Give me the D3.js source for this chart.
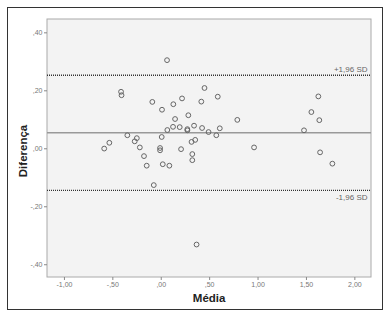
<!DOCTYPE html>
<html><head><meta charset="utf-8">
<script src="https://cdn.jsdelivr.net/npm/d3@7"></script>
<style>html,body{margin:0;padding:0;background:#fff;}svg{display:block;}</style>
</head><body>
<script>
const media = [0.065,-0.41,-0.405,0.452,-0.087,0.013,0.130,0.220,0.419,0.589,0.148,0.285,0.791,1.556,1.628,1.638,1.480,0.068,0.127,0.196,0.275,0.275,0.344,0.427,0.494,0.574,0.610,-0.345,-0.247,-0.269,0.010,0.318,0.356,-0.531,-0.584,-0.216,-0.007,-0.007,0.210,0.964,0.326,-0.173,1.646,-0.145,0.021,0.089,0.326,-0.072,0.370,1.773];
const diferenca = [0.304,0.195,0.183,0.208,0.160,0.133,0.152,0.172,0.161,0.178,0.101,0.114,0.098,0.125,0.179,0.097,0.062,0.063,0.074,0.073,0.066,0.062,0.078,0.070,0.056,0.045,0.069,0.045,0.035,0.024,0.039,0.022,0.029,0.019,-0.001,0.003,0.001,-0.007,-0.003,0.003,-0.020,-0.027,-0.014,-0.060,-0.055,-0.060,-0.041,-0.127,-0.332,-0.053];
const xTicks = [-1, -0.5, 0, 0.5, 1, 1.5, 2];
const xTickLabels = ["-1,00","-,50",",00",",50","1,00","1,50","2,00"];
const yTicks = [0.4, 0.2, 0, -0.2, -0.4];
const yTickLabels = [",40",",20",",00","-,20","-,40"];
const meanDiff = 0.054;
const upperLimit = 0.252;
const lowerLimit = -0.145;
const limitLabels = ["+1,96 SD", "-1,96 SD"];

const W = 390, H = 317;
const L = 47, T = 19, R = 371, B = 277;
const svg = d3.select("body").append("svg").attr("width", W).attr("height", H);
svg.append("rect").attr("x", 7.5).attr("y", 7.5).attr("width", 375).attr("height", 302)
  .attr("fill", "#fff").attr("stroke", "#333").attr("stroke-width", 1);

const x = d3.scaleLinear().domain([-1.175, 2.172]).range([L, R]);
const y = d3.scaleLinear().domain([-0.444, 0.446]).range([B, T]);

svg.append("rect").attr("x", L).attr("y", T).attr("width", R - L).attr("height", B - T)
  .attr("fill", "#f3f3f3").attr("stroke", "#aaa").attr("stroke-width", 1);

const fontTick = "Arial, 'Liberation Sans', sans-serif";
const xAxis = svg.append("g").attr("transform", `translate(0,${B})`)
  .call(d3.axisBottom(x).tickValues(xTicks).tickFormat((d,i)=>xTickLabels[i]).tickSize(3).tickPadding(2));
const yAxis = svg.append("g").attr("transform", `translate(${L},0)`)
  .call(d3.axisLeft(y).tickValues(yTicks).tickFormat((d,i)=>yTickLabels[i]).tickSize(3).tickPadding(1.5));
[xAxis, yAxis].forEach(g => {
  g.select(".domain").remove();
  g.selectAll("line").attr("stroke", "#888");
  g.selectAll("text").attr("fill", "#777").attr("font-size", "7px").attr("font-family", fontTick);
});

svg.append("line").attr("x1", L).attr("x2", R).attr("y1", y(meanDiff)).attr("y2", y(meanDiff))
  .attr("stroke", "#999").attr("stroke-width", 1.5);
[upperLimit, lowerLimit].forEach(v => {
  svg.append("line").attr("x1", L).attr("x2", R).attr("y1", y(v)).attr("y2", y(v))
    .attr("stroke", "#333").attr("stroke-width", 1.3).attr("stroke-dasharray", "1,1");
});
svg.append("text").attr("x", R - 3.5).attr("y", y(upperLimit) - 3).attr("text-anchor", "end")
  .attr("font-size", "8px").attr("fill", "#666").attr("font-family", fontTick).text(limitLabels[0]);
svg.append("text").attr("x", R - 3.5).attr("y", y(lowerLimit) + 10).attr("text-anchor", "end")
  .attr("font-size", "8px").attr("fill", "#666").attr("font-family", fontTick).text(limitLabels[1]);

svg.append("g").selectAll("circle").data(media).join("circle")
  .attr("cx", d => x(d)).attr("cy", (d,i) => y(diferenca[i])).attr("r", 2.4)
  .attr("fill", "none").attr("stroke", "#666").attr("stroke-width", 1);

svg.append("text").attr("x", x(0.5)).attr("y", 302).attr("text-anchor", "middle")
  .attr("font-size", "11.5px").attr("font-weight", "bold").attr("fill", "#222").attr("font-family", fontTick).text("Média");
svg.append("text").attr("transform", `translate(26.5,151) rotate(-90)`).attr("text-anchor", "middle")
  .attr("font-size", "11.5px").attr("font-weight", "bold").attr("fill", "#222").attr("font-family", fontTick).text("Diferença");
</script>
</body></html>
